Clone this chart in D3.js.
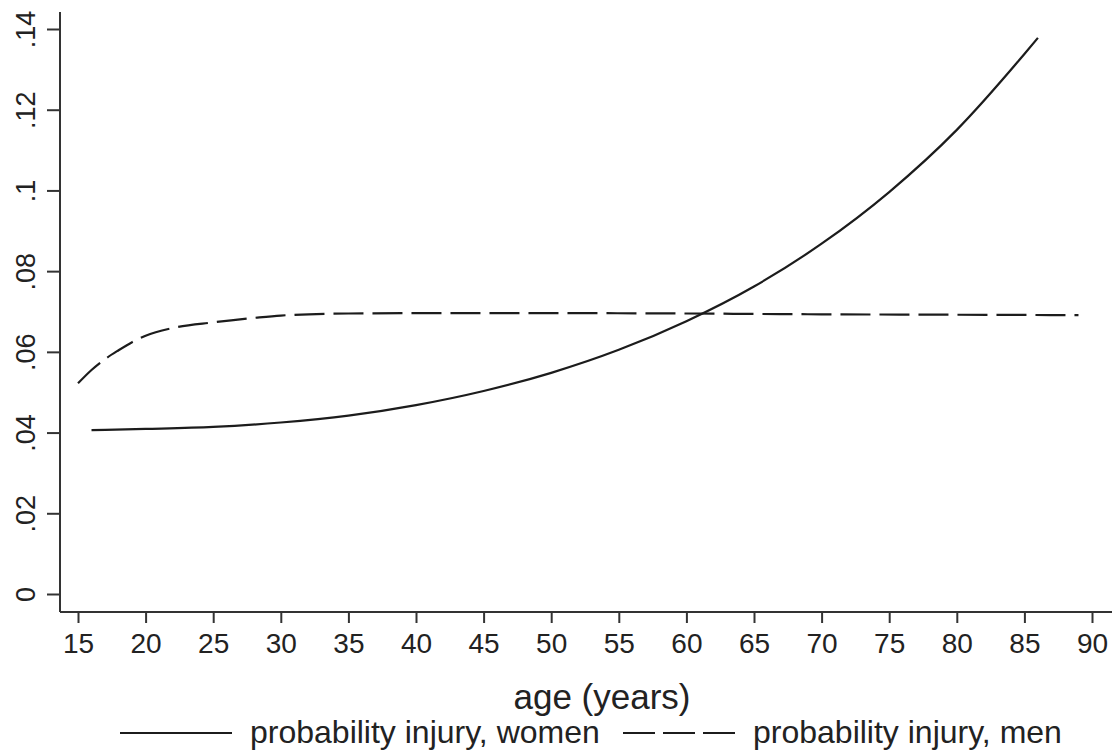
<!DOCTYPE html>
<html>
<head>
<meta charset="utf-8">
<script src="https://cdn.jsdelivr.net/npm/d3@7"></script>
<style>
  body { margin: 0; background: #fff; }
  svg { display: block; font-family: "Liberation Sans", Arial, sans-serif; }
</style>
</head>
<body>
<div id="chart"></div>
<script>
// ages and predicted probabilities
var womenAge = [16, 20, 25, 30, 35, 40, 45, 50, 55, 60, 65, 70, 75, 80, 85, 86];
var womenProb = [0.0406, 0.0409, 0.0414, 0.0425, 0.0442, 0.0468, 0.0503, 0.0548, 0.0605, 0.0676, 0.0762, 0.0868, 0.0996, 0.1150, 0.1338, 0.1378];

var menAge = [15, 16, 17, 18, 19, 20, 22, 25, 28, 30, 35, 40, 50, 60, 70, 80, 89];
var menProb = [0.0522, 0.0555, 0.0582, 0.0604, 0.0624, 0.0640, 0.0659, 0.0673, 0.0684, 0.0690, 0.0695, 0.0696, 0.0696, 0.0695, 0.0693, 0.0692, 0.0691];

var xTicks = [15, 20, 25, 30, 35, 40, 45, 50, 55, 60, 65, 70, 75, 80, 85, 90];
var yTicks = [0, 0.02, 0.04, 0.06, 0.08, 0.1, 0.12, 0.14];

var seriesNames = ["probability injury, women", "probability injury, men"];

var width = 1114, height = 752;

var svg = d3.select("#chart")
  .append("svg")
  .attr("width", width)
  .attr("height", height);

var x = d3.scaleLinear().domain([15, 90]).range([78, 1092]);
var y = d3.scaleLinear().domain([0, 0.14]).range([594, 29]);

var axisColor = "#333";
var inkColor = "#1c1c1c";

// axes frame (stata style: axis lines go past the data range)
var x0 = x.invert(60), x1 = x.invert(1112);
var yTop = y.invert(12), yBot = y.invert(612);

svg.append("line")
  .attr("x1", x(x0)).attr("x2", x(x0))
  .attr("y1", y(yTop)).attr("y2", y(yBot))
  .style("stroke", axisColor).style("stroke-width", 2);

svg.append("line")
  .attr("x1", x(x0)).attr("x2", x(x1))
  .attr("y1", y(yBot)).attr("y2", y(yBot))
  .style("stroke", axisColor).style("stroke-width", 2);

// x axis
var xAxis = svg.append("g")
  .attr("transform", "translate(0," + y(yBot) + ")")
  .call(d3.axisBottom(x).tickValues(xTicks).tickSize(11).tickPadding(10).tickFormat(d3.format("d")));

xAxis.select(".domain").remove();
xAxis.selectAll(".tick line").style("stroke", axisColor).style("stroke-width", 2);
xAxis.selectAll(".tick text")
  .style("font-size", "28px")
  .style("fill", "#222");

// y axis, labels rotated
var yFmt = function(d) {
  if (d === 0) return "0";
  return d3.format(".2~f")(d).replace(/^0/, "");
};

var yAxis = svg.append("g")
  .attr("transform", "translate(" + x(x0) + ",0)")
  .call(d3.axisLeft(y).tickValues(yTicks).tickSize(13).tickFormat(yFmt));

yAxis.select(".domain").remove();
yAxis.selectAll(".tick line").style("stroke", axisColor).style("stroke-width", 2);
yAxis.selectAll(".tick text")
  .attr("x", null).attr("dy", null)
  .attr("transform", "translate(-25,0) rotate(-90)")
  .attr("text-anchor", "middle")
  .style("font-size", "27px")
  .style("fill", "#222");

// curves
var line = d3.line()
  .x(function(d) { return x(d[0]); })
  .y(function(d) { return y(d[1]); })
  .curve(d3.curveMonotoneX);

var women = womenAge.map(function(a, i) { return [a, womenProb[i]]; });
var men = menAge.map(function(a, i) { return [a, menProb[i]]; });

svg.append("path")
  .datum(women)
  .attr("d", line)
  .style("fill", "none")
  .style("stroke", inkColor)
  .style("stroke-width", 2.2);

svg.append("path")
  .datum(men)
  .attr("d", line)
  .style("fill", "none")
  .style("stroke", inkColor)
  .style("stroke-width", 2.2)
  .style("stroke-dasharray", "30,9");

// axis title
svg.append("text")
  .attr("x", 602)
  .attr("y", 709)
  .attr("text-anchor", "middle")
  .style("font-size", "35px")
  .style("fill", "#222")
  .text("age (years)");

// legend
var legend = svg.append("g");
var keys = [
  { name: seriesNames[0], x: 120, dash: null },
  { name: seriesNames[1], x: 623, dash: "32,8" }
];

keys.forEach(function(k) {
  legend.append("line")
    .attr("x1", k.x).attr("x2", k.x + 112)
    .attr("y1", 733).attr("y2", 733)
    .style("stroke", inkColor)
    .style("stroke-width", 2.2)
    .style("stroke-dasharray", k.dash);

  legend.append("text")
    .attr("x", k.x + 130)
    .attr("y", 743)
    .style("font-size", "32px")
    .style("fill", "#222")
    .text(k.name);
});
</script>
</body>
</html>
